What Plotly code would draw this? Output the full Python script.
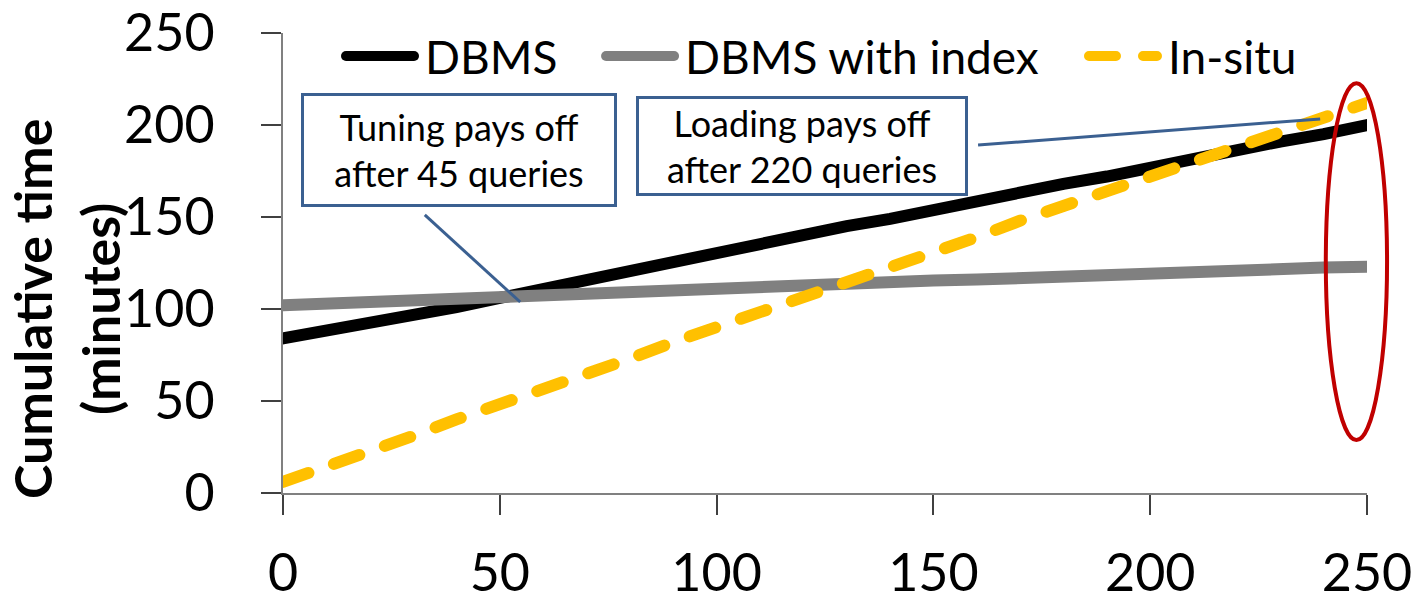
import plotly.graph_objects as go

# Number of queries executed
queries = [0, 10, 20, 30, 40, 50, 60, 70, 80, 90, 100, 110, 120, 130, 140,
           150, 160, 170, 180, 190, 200, 210, 220, 230, 240, 250]

# Cumulative time in minutes for each approach
dbms = [84, 88, 93, 97, 101, 106, 111, 116, 121, 126, 131, 135, 140, 145, 149,
        154, 159, 163, 168, 172, 177, 182, 186, 191, 195, 200]
dbms_index = [102, 103, 104, 105, 106, 107, 108, 108.5, 109.5, 110, 111, 112, 112.5,
              113.5, 114.5, 115.5, 116, 117, 117.5, 118.5, 119.5, 120, 121, 121.5,
              122.5, 123]
in_situ = [6, 14, 23, 31, 40, 48, 56, 65, 73, 82, 90, 98, 106, 115, 123, 131, 139,
           148, 156, 164, 172, 180, 188, 196, 204, 212]

series_names = ["DBMS", "DBMS with index", "In-situ"]
tick_values = [0, 50, 100, 150, 200, 250]
y_title_lines = ["Cumulative time", "(minutes)"]

FONT = "Lato"
BOX_BLUE = "#3B6091"

fig = go.Figure()
fig.add_trace(go.Scatter(x=queries, y=dbms, name=series_names[0], mode="lines",
                         legend="legend",
                         line=dict(color="#000000", width=12)))
fig.add_trace(go.Scatter(x=queries, y=dbms_index, name=series_names[1], mode="lines",
                         legend="legend2",
                         line=dict(color="#808080", width=12)))
fig.add_trace(go.Scatter(x=queries, y=in_situ, name=series_names[2], mode="lines",
                         legend="legend3",
                         line=dict(color="#FFC000", width=12, dash="27px,27px")))

axis_common = dict(
    range=[0, 250], tickvals=tick_values, showgrid=False, zeroline=False,
    showline=True, linecolor="#808080", linewidth=2,
    ticks="outside", ticklen=20, tickwidth=1.5, tickcolor="#404040",
    tickfont=dict(family=FONT, size=52, color="#000000"),
)

fig.update_xaxes(**axis_common, ticklabelstandoff=14)
fig.update_yaxes(**axis_common, ticklabelstandoff=36)

# Y-axis title, one rotated line per column
title_font = dict(family=FONT, size=52, color="#000000", weight="bold")
for text, xpos in zip(y_title_lines, [-0.2315, -0.1688]):
    fig.add_annotation(text=text, x=xpos, y=0.40, xref="paper", yref="paper",
                       xanchor="center", yanchor="middle", textangle=-90,
                       showarrow=False, font=title_font)

# Callout boxes
box_font = dict(family=FONT, size=36, color="#000000")
fig.add_annotation(x=40.6, y=186.4, xref="x", yref="y", showarrow=False,
                   text="Tuning pays off<br>after 45 queries", font=box_font,
                   width=300, height=98, bgcolor="#FFFFFF",
                   bordercolor=BOX_BLUE, borderwidth=3, borderpad=5)
fig.add_annotation(x=119.6, y=188.6, xref="x", yref="y", showarrow=False,
                   text="Loading pays off<br>after 220 queries", font=box_font,
                   width=316, height=84, bgcolor="#FFFFFF",
                   bordercolor=BOX_BLUE, borderwidth=3, borderpad=5)

# Callout connectors
fig.add_shape(type="line", xref="x", yref="y", x0=32.7, y0=151.1, x1=54.7, y1=103.8,
              line=dict(color=BOX_BLUE, width=3))
fig.add_shape(type="line", xref="x", yref="y", x0=160.3, y0=189.1, x1=239.2, y1=203.3,
              line=dict(color=BOX_BLUE, width=3))

# Highlight around the final queries
fig.add_shape(type="circle", xref="paper", yref="paper",
              x0=0.962, x1=1.0185, y0=0.115, y1=0.891,
              line=dict(color="#C00000", width=4))

legend_common = dict(orientation="h", y=1.029, xanchor="left", yanchor="top",
                     font=dict(family=FONT, size=46, color="#000000"),
                     bgcolor="rgba(0,0,0,0)", itemwidth=75)

fig.update_layout(
    width=1421, height=605,
    margin=dict(l=283, r=54, t=33, b=112, autoexpand=False),
    plot_bgcolor="#FFFFFF", paper_bgcolor="#FFFFFF",
    font=dict(family=FONT, color="#000000"),
    legend=dict(x=0.0526, **legend_common),
    legend2=dict(x=0.2925, **legend_common),
    legend3=dict(x=0.738, **legend_common),
    showlegend=True,
)

# Rounded line ends, and longer legend line samples
post = """
var gd = document.getElementById('{plot_id}');
gd.querySelectorAll('path.js-line').forEach(function(p) {
    p.style.strokeLinecap = 'round';
});
gd.querySelectorAll('.legendlines path.js-line').forEach(function(p) {
    p.setAttribute('d', 'M6,0h68');
});
"""

fig.write_html("out.html", post_script=post)
